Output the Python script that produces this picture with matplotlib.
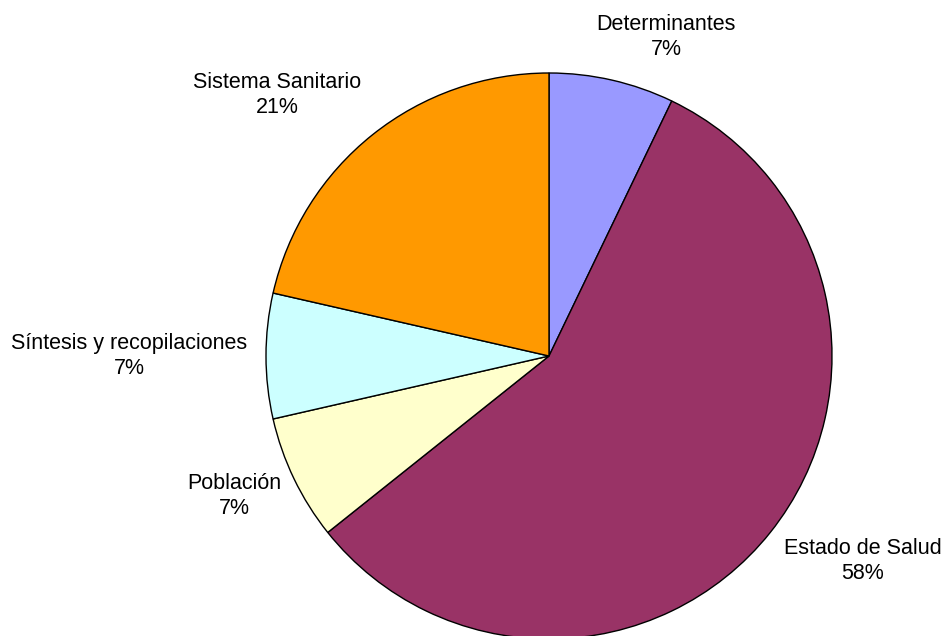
import numpy as np
import matplotlib
matplotlib.use("Agg")
import matplotlib.pyplot as plt

#%%
categorias = ['Determinantes', 'Estado de Salud', 'Población',
              'Síntesis y recopilaciones', 'Sistema Sanitario']
documentos = [1, 8, 1, 1, 3]
etiquetas_pct = ['7%', '58%', '7%', '7%', '21%']
colores = ['#9999FF', '#993366', '#FFFFCC', '#CCFFFF', '#FF9900']

# label block centres (pixels, from top-left)
label_pos = [(666, 37), (863, 561), (234, 496), (129, 356), (277, 95)]

W, H = 950, 636
cx, cy, r = 549, 356, 283

plt.rcParams['font.family'] = ['Liberation Sans', 'DejaVu Sans']

fig = plt.figure(figsize=(W / 100, H / 100), dpi=100)
ax = fig.add_axes([0, 0, 1, 1])

ax.pie(documentos, colors=colores, startangle=90, counterclock=False,
       center=(cx, H - cy), radius=r, frame=True,
       wedgeprops={'edgecolor': 'black', 'linewidth': 1.0})
ax.set_xlim(0, W)
ax.set_ylim(0, H)
ax.set_aspect('equal')
ax.axis('off')

for cat, pct, (x, y) in zip(categorias, etiquetas_pct, label_pos):
    ax.text(x, H - y, cat + '\n' + pct, ha='center', va='center',
            fontsize=15.5, linespacing=1.3, color='black')

fig.savefig('out.png', dpi=100, facecolor='white')
